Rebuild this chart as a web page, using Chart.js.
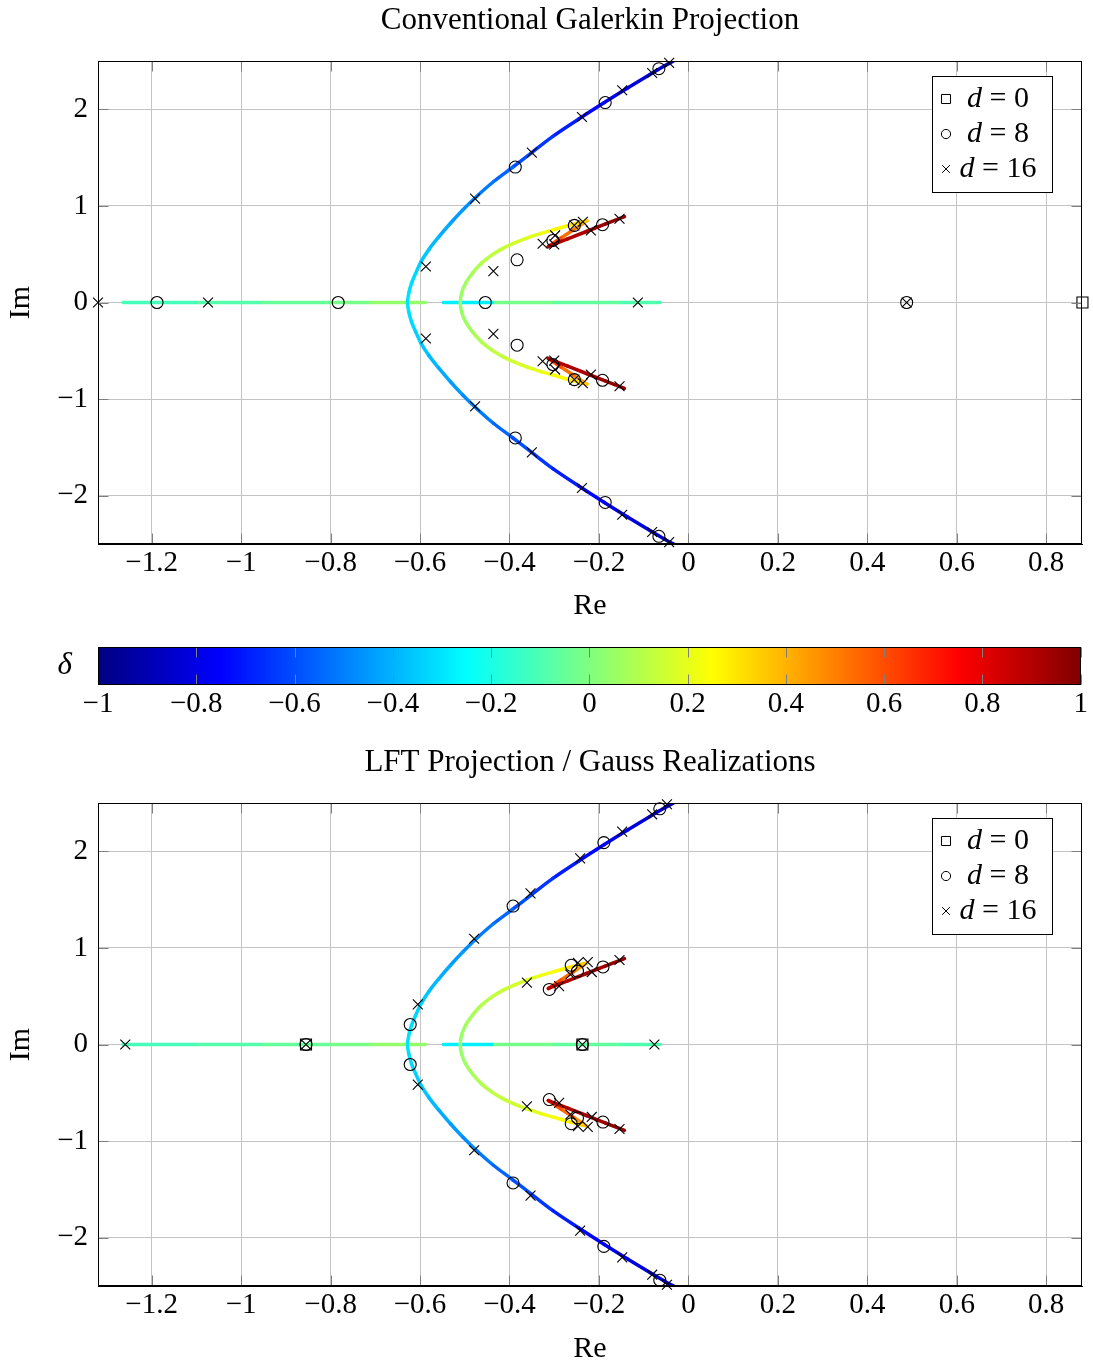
<!DOCTYPE html>
<html lang="en">
<head>
<meta charset="UTF-8" />
<title>Root loci - Galerkin vs LFT projection</title>
<script src="https://cdn.jsdelivr.net/npm/chart.js"></script>
<style>
  body { margin: 0; background: #fff; }
  #wrap { position: relative; width: 1093px; height: 1363px; }
  canvas { position: absolute; left: 0; }
</style>
</head>
<body>
<div id="wrap">
  <canvas id="galerkin" width="1093" height="640" style="top:0px"></canvas>
  <canvas id="colorbar" width="1093" height="100" style="top:640px"></canvas>
  <canvas id="lft" width="1093" height="623" style="top:740px"></canvas>
</div>
<script>
// axis ticks
const xTicks = [-1.2, -1, -0.8, -0.6, -0.4, -0.2, 0, 0.2, 0.4, 0.6, 0.8];
const yTicks = [-2, -1, 0, 1, 2];
const deltaTicks = [-1, -0.8, -0.6, -0.4, -0.2, 0, 0.2, 0.4, 0.6, 0.8, 1];
const legendLabels = ['0', '8', '16'];

// loci over delta (same in both plots)
const outerRe = [-0.026, -0.053, -0.086, -0.136, -0.188, -0.245, -0.303, -0.351, -0.393, -0.436, -0.473, -0.504, -0.532, -0.558, -0.580, -0.598, -0.610, -0.619, -0.625, -0.628,
  -0.625, -0.619, -0.610, -0.598, -0.580, -0.558, -0.532, -0.504, -0.473, -0.436, -0.393, -0.351, -0.303, -0.245, -0.188, -0.136, -0.086, -0.053, -0.026];
const outerIm = [2.52, 2.45, 2.36, 2.22, 2.07, 1.90, 1.72, 1.55, 1.40, 1.25, 1.10, 0.96, 0.82, 0.68, 0.55, 0.42, 0.30, 0.20, 0.10, 0,
  -0.10, -0.20, -0.30, -0.42, -0.55, -0.68, -0.82, -0.96, -1.10, -1.25, -1.40, -1.55, -1.72, -1.90, -2.07, -2.22, -2.36, -2.45, -2.52];
const outerDelta = [-0.90, -0.87, -0.84, -0.80, -0.77, -0.72, -0.67, -0.62, -0.57, -0.53, -0.49, -0.46, -0.43, -0.40, -0.37, -0.35, -0.33, -0.32, -0.31, -0.30,
  -0.31, -0.32, -0.33, -0.35, -0.37, -0.40, -0.43, -0.46, -0.49, -0.53, -0.57, -0.62, -0.67, -0.72, -0.77, -0.80, -0.84, -0.87, -0.90];

const innerRe = [-0.227, -0.245, -0.270, -0.300, -0.330, -0.360, -0.390, -0.415, -0.440, -0.462, -0.482, -0.498, -0.507, -0.510,
  -0.507, -0.498, -0.482, -0.462, -0.440, -0.415, -0.390, -0.360, -0.330, -0.300, -0.270, -0.245, -0.227];
const innerIm = [-0.845, -0.825, -0.795, -0.755, -0.715, -0.67, -0.615, -0.56, -0.49, -0.41, -0.31, -0.20, -0.10, 0,
  0.10, 0.20, 0.31, 0.41, 0.49, 0.56, 0.615, 0.67, 0.715, 0.755, 0.795, 0.825, 0.845];
const innerDelta = [0.38, 0.32, 0.28, 0.24, 0.21, 0.18, 0.16, 0.14, 0.12, 0.10, 0.08, 0.06, 0.05, 0.04,
  0.05, 0.06, 0.08, 0.10, 0.12, 0.14, 0.16, 0.18, 0.21, 0.24, 0.28, 0.32, 0.38];

const redRe = [-0.227, -0.256, -0.285, -0.313, -0.313, -0.270, -0.228, -0.185, -0.143];
const redUpIm = [0.845, 0.756, 0.667, 0.580, 0.580, 0.658, 0.735, 0.813, 0.890];
const redLowIm = [-0.845, -0.756, -0.667, -0.580, -0.580, -0.658, -0.735, -0.813, -0.890];
const redDelta = [0.42, 0.50, 0.57, 0.64, 0.88, 0.90, 0.92, 0.95, 0.97];

const realLeftRe = [-1.264, -1.10, -0.95, -0.80, -0.712, -0.70, -0.588];
const realLeftDelta = [-0.13, -0.10, -0.07, -0.03, 0.0, 0.03, 0.05];
const realCyanRe = [-0.548, -0.439];
const realCyanDelta = [-0.28, -0.28];
const realGreenRe = [-0.439, -0.30, -0.15, -0.063];
const realGreenDelta = [0.0, -0.04, -0.08, -0.11];

// Galerkin eigenvalues (d = 0, 8, 16)
const galSqRe = [0.881];
const galSqIm = [0];
const galCircRe = [-1.188, -0.783, -0.454, 0.488, -0.066, -0.066, -0.186, -0.186, -0.387, -0.387, -0.383, -0.383, -0.303, -0.303, -0.255, -0.255, -0.192, -0.192];
const galCircIm = [0, 0, 0, 0, 2.42, -2.42, 2.07, -2.07, 1.402, -1.402, 0.442, -0.442, 0.642, -0.642, 0.798, -0.798, 0.805, -0.805];
const galCrossRe = [-1.320, -1.074, -0.113, 0.488, -0.043, -0.043, -0.081, -0.081, -0.148, -0.148, -0.238, -0.238, -0.350, -0.350, -0.477, -0.477,
  -0.587, -0.587, -0.436, -0.436, -0.326, -0.326, -0.298, -0.298, -0.300, -0.300, -0.255, -0.255, -0.236, -0.236, -0.218, -0.218, -0.154, -0.154];
const galCrossIm = [0, 0, 0, 0, 2.48, -2.48, 2.376, -2.376, 2.197, -2.197, 1.92, -1.92, 1.551, -1.551, 1.075, -1.075,
  0.373, -0.373, 0.325, -0.325, 0.608, -0.608, 0.694, -0.694, 0.601, -0.601, 0.798, -0.798, 0.836, -0.836, 0.746, -0.746, 0.867, -0.867];

// LFT / Gauss eigenvalues (d = 0, 8, 16)
const lftSqRe = [-0.855, -0.237];
const lftSqIm = [0, 0];
const lftCircRe = [-0.855, -0.237, -0.622, -0.622, -0.064, -0.064, -0.189, -0.189, -0.392, -0.392, -0.311, -0.311, -0.262, -0.262, -0.248, -0.248, -0.191, -0.191];
const lftCircIm = [0, 0, 0.207, -0.207, 2.44, -2.44, 2.09, -2.09, 1.433, -1.433, 0.57, -0.57, 0.82, -0.82, 0.76, -0.76, 0.803, -0.803];
const lftCrossRe = [-1.259, -0.855, -0.237, -0.076, -0.048, -0.048, -0.081, -0.081, -0.148, -0.148, -0.242, -0.242, -0.353, -0.353, -0.479, -0.479,
  -0.605, -0.605, -0.361, -0.361, -0.289, -0.289, -0.264, -0.264, -0.247, -0.247, -0.225, -0.225, -0.216, -0.216, -0.154, -0.154];
const lftCrossIm = [0, 0, 0, 0, 2.487, -2.487, 2.383, -2.383, 2.204, -2.204, 1.927, -1.927, 1.565, -1.565, 1.095, -1.095,
  0.415, -0.415, 0.64, -0.64, 0.604, -0.604, 0.725, -0.725, 0.846, -0.846, 0.853, -0.853, 0.75, -0.75, 0.875, -0.875];

const FAM = "'Liberation Serif', 'DejaVu Serif', serif";
const jetStops = [-1, -0.75, -0.25, 0.25, 0.75, 1];
const jetRGB = [[0, 0, 128], [0, 0, 255], [0, 255, 255], [255, 255, 0], [255, 0, 0], [128, 0, 0]];

function jet(d) {
  d = Math.max(-1, Math.min(1, d));
  let i = 0;
  while (i < jetStops.length - 2 && d > jetStops[i + 1]) i++;
  const t = (d - jetStops[i]) / (jetStops[i + 1] - jetStops[i]);
  const c = jetRGB[i].map((v, k) => Math.round(v + t * (jetRGB[i + 1][k] - v)));
  return `rgb(${c[0]},${c[1]},${c[2]})`;
}

const fmt = v => (v < 0 ? '\u2212' + Math.abs(v) : String(v));

function locus(re, im, delta, tension) {
  return {
    data: re.map((x, i) => ({ x, y: Array.isArray(im) ? im[i] : im, d: delta[i] })),
    showLine: true, pointRadius: 0, borderWidth: 3.5, tension,
    borderColor: jet(delta[0]), borderCapStyle: 'round', borderJoinStyle: 'round',
    segment: { borderColor: c => jet((c.p0.raw.d + c.p1.raw.d) / 2) },
    clip: 0, order: 2
  };
}

function marks(re, im, style, radius) {
  return {
    data: re.map((x, i) => ({ x, y: im[i] })),
    showLine: false, pointStyle: style, pointRadius: radius,
    pointBorderColor: '#000', pointBackgroundColor: 'rgba(0,0,0,0)', pointBorderWidth: 1.1,
    clip: false, order: 0
  };
}

const decor = {
  id: 'decor',
  afterDraw(chart, args, opts) {
    const { ctx, chartArea: a, scales } = chart;
    const L = Math.round(a.left) + 0.5, T = Math.round(a.top) + 0.5;
    const R = Math.round(a.right) - 0.5, B = Math.round(a.bottom) - 0.5;
    ctx.save();
    ctx.lineWidth = 1;
    ctx.strokeStyle = '#7f7f7f';
    ctx.beginPath();
    scales.x.ticks.forEach(t => {
      const p = Math.round(scales.x.getPixelForValue(t.value)) + 0.5;
      ctx.moveTo(p, T); ctx.lineTo(p, T + 10);
      ctx.moveTo(p, B); ctx.lineTo(p, B - 10);
    });
    if (opts.yTicks) {
      scales.y.ticks.forEach(t => {
        const p = Math.round(scales.y.getPixelForValue(t.value)) + 0.5;
        ctx.moveTo(L, p); ctx.lineTo(L + 10, p);
        ctx.moveTo(R, p); ctx.lineTo(R - 10, p);
      });
    }
    ctx.stroke();
    ctx.strokeStyle = '#000';
    ctx.strokeRect(L, T, R - L, B - T);

    if (opts.title) {
      ctx.fillStyle = '#000';
      ctx.font = `31px ${FAM}`;
      ctx.textAlign = 'center';
      ctx.textBaseline = 'middle';
      ctx.fillText(opts.title, (a.left + a.right) / 2, a.top - 40);
    }

    if (opts.legend) {
      const bx = Math.round(a.right) - 150, by = Math.round(a.top) + 15, bw = 120, bh = 116;
      ctx.fillStyle = '#fff';
      ctx.fillRect(bx, by, bw, bh);
      ctx.strokeStyle = '#000';
      ctx.strokeRect(bx + 0.5, by + 0.5, bw, bh);
      const styles = ['rect', 'circle', 'crossRot'];
      const radii = [6.4, 4.6, 5.5];
      legendLabels.forEach((lab, i) => {
        const cy = by + 23 + i * 35;
        ctx.strokeStyle = '#000';
        ctx.fillStyle = '#fff';
        ctx.lineWidth = 1;
        Chart.helpers.drawPoint(ctx, { pointStyle: styles[i], radius: radii[i], borderWidth: 1, rotation: 0 }, bx + 14, cy);
        ctx.fillStyle = '#000';
        ctx.textBaseline = 'middle';
        ctx.textAlign = 'left';
        ctx.font = `italic 30px ${FAM}`;
        const w1 = ctx.measureText('d').width;
        const rest = ' = ' + lab;
        ctx.font = `30px ${FAM}`;
        const w2 = ctx.measureText(rest).width;
        const x0 = bx + 66 - (w1 + w2) / 2;
        ctx.font = `italic 30px ${FAM}`;
        ctx.fillText('d', x0, cy);
        ctx.font = `30px ${FAM}`;
        ctx.fillText(rest, x0 + w1, cy);
      });
    }
    ctx.restore();
  }
};

const tickFont = { family: FAM, size: 29, lineHeight: 1 };
const titleFont = { family: FAM, size: 30, lineHeight: 1 };

function plot(id, title, sqRe, sqIm, cRe, cIm, xRe, xIm, topPad, axisH, reBottom) {
  return new Chart(document.getElementById(id), {
    type: 'scatter',
    data: {
      datasets: [
        marks(sqRe, sqIm, 'rect', 7.8),
        marks(cRe, cIm, 'circle', 6),
        marks(xRe, xIm, 'crossRot', 7),
        locus(outerRe, outerIm, outerDelta, 0.35),
        locus(innerRe, innerIm, innerDelta, 0.35),
        locus(redRe, redUpIm, redDelta, 0),
        locus(redRe, redLowIm, redDelta, 0),
        locus(realLeftRe, 0, realLeftDelta, 0),
        locus(realCyanRe, 0, realCyanDelta, 0),
        locus(realGreenRe, 0, realGreenDelta, 0)
      ]
    },
    options: {
      responsive: false, animation: false, events: [],
      layout: { padding: { top: topPad, right: 11, left: 0, bottom: 0 } },
      scales: {
        x: {
          type: 'linear', min: -1.32, max: 0.88,
          afterBuildTicks: s => { s.ticks = xTicks.map(v => ({ value: v })); },
          afterFit: s => { s.height = axisH; },
          grid: { color: '#c4c4c4', drawTicks: false },
          border: { color: '#000' },
          ticks: { callback: fmt, font: tickFont, color: '#000', padding: 5, maxRotation: 0, autoSkip: false },
          title: { display: true, text: 'Re', font: titleFont, color: '#000', padding: { top: 0, bottom: reBottom } }
        },
        y: {
          type: 'linear', min: -2.5, max: 2.5,
          afterBuildTicks: s => { s.ticks = yTicks.map(v => ({ value: v })); },
          afterFit: s => { s.width = 98; s.paddingTop = 0; s.paddingBottom = 0; },
          grid: { color: '#c4c4c4', drawTicks: false },
          border: { color: '#000' },
          ticks: { callback: fmt, font: tickFont, color: '#000', padding: 10, autoSkip: false },
          title: { display: true, text: 'Im', font: titleFont, color: '#000', padding: { top: 6, bottom: 0 } }
        }
      },
      plugins: {
        legend: { display: false }, tooltip: { enabled: false },
        decor: { title, legend: true, yTicks: true }
      }
    },
    plugins: [decor]
  });
}

plot('galerkin', 'Conventional Galerkin Projection', galSqRe, galSqIm, galCircRe, galCircIm, galCrossRe, galCrossIm, 61, 96, 19);
plot('lft', 'LFT Projection / Gauss Realizations', lftSqRe, lftSqIm, lftCircRe, lftCircIm, lftCrossRe, lftCrossIm, 63, 77, -1);

new Chart(document.getElementById('colorbar'), {
  type: 'bar',
  data: {
    labels: ['\u03b4'],
    datasets: [{
      data: [[deltaTicks[0], deltaTicks[deltaTicks.length - 1]]],
      backgroundColor: c => {
        const ch = c.chart;
        if (!ch.chartArea) return 'rgba(0,0,0,0)';
        const xs = ch.scales.x;
        const g = ch.ctx.createLinearGradient(xs.getPixelForValue(-1), 0, xs.getPixelForValue(1), 0);
        jetStops.forEach((s, i) => g.addColorStop((s + 1) / 2, `rgb(${jetRGB[i].join(',')})`));
        return g;
      },
      borderWidth: 0, barPercentage: 1, categoryPercentage: 1
    }]
  },
  options: {
    indexAxis: 'y', responsive: false, animation: false, events: [],
    layout: { padding: { top: 7, right: 11, left: 0, bottom: 0 } },
    scales: {
      x: {
        type: 'linear', min: -1, max: 1,
        afterBuildTicks: s => { s.ticks = deltaTicks.map(v => ({ value: v })); },
        afterFit: s => { s.height = 55; },
        grid: { display: false, drawTicks: false },
        border: { display: false },
        ticks: { callback: fmt, font: tickFont, color: '#000', padding: 5, maxRotation: 0, autoSkip: false }
      },
      y: {
        afterFit: s => { s.width = 98; s.paddingTop = 0; s.paddingBottom = 0; },
        grid: { display: false, drawTicks: false },
        border: { display: false },
        ticks: { font: { family: FAM, size: 31, style: 'italic', lineHeight: 1 }, color: '#000', padding: 26 }
      }
    },
    plugins: { legend: { display: false }, tooltip: { enabled: false }, decor: { yTicks: false } }
  },
  plugins: [decor]
});
</script>
</body>
</html>
